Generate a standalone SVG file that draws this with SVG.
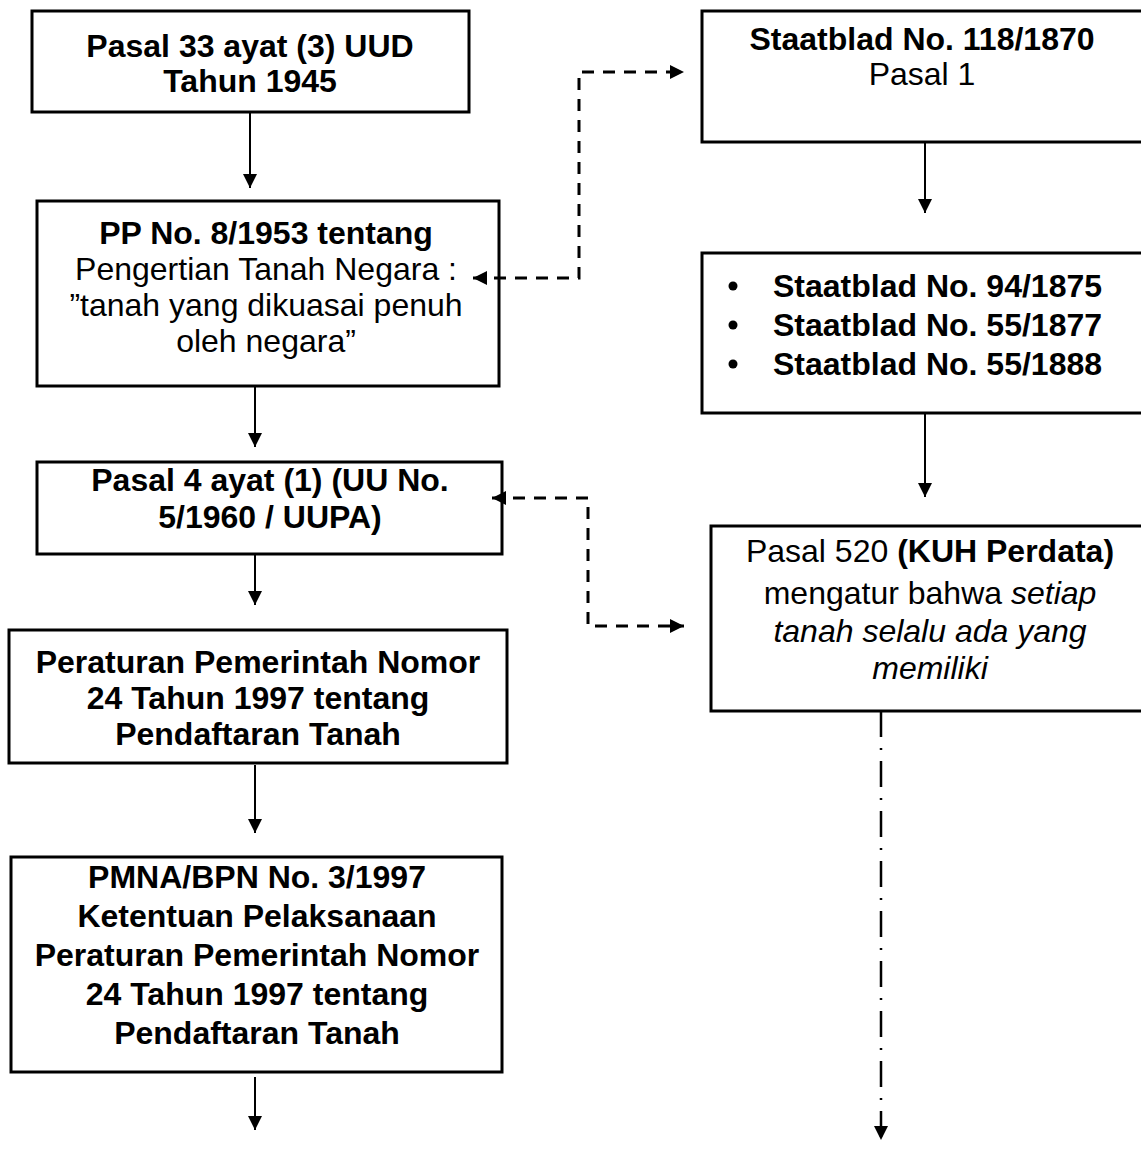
<svg xmlns="http://www.w3.org/2000/svg" width="1141" height="1151" viewBox="0 0 1141 1151">
<style>
.box{fill:#fff;stroke:#000;stroke-width:3}
.t{font-family:"Liberation Sans",Arial,sans-serif;font-size:32px;fill:#000;text-anchor:middle}
.b{font-weight:bold}
.i{font-style:italic}
.l{text-anchor:start}
.arr{fill:none;stroke:#000;stroke-width:2}
.dash{fill:none;stroke:#000;stroke-width:3;stroke-dasharray:12 9}
.dd{fill:none;stroke:#000;stroke-width:2.5;stroke-dasharray:26 11 2 11}
</style>
<defs>
<marker id="ah" markerUnits="userSpaceOnUse" markerWidth="16" markerHeight="14" refX="14" refY="7" orient="auto">
<path d="M0,0 L14,7 L0,14 Z" fill="#000"/>
</marker>
<marker id="ahs" markerUnits="userSpaceOnUse" markerWidth="16" markerHeight="14" refX="0" refY="7" orient="auto">
<path d="M14,0 L0,7 L14,14 Z" fill="#000"/>
</marker>
</defs>
<rect width="1141" height="1151" fill="#fff"/>
<g id="n1">
<rect class="box" x="32" y="11" width="437" height="101"/>
<text class="t b" x="250" y="57">Pasal 33 ayat (3) UUD</text>
<text class="t b" x="250" y="92">Tahun 1945</text>
</g>
<g id="n2">
<rect class="box" x="37" y="201" width="462" height="185"/>
<text class="t b" x="266" y="244">PP No. 8/1953 tentang</text>
<text class="t" x="266" y="280">Pengertian Tanah Negara :</text>
<text class="t" x="266" y="316">”tanah yang dikuasai penuh</text>
<text class="t" x="266" y="352">oleh negara”</text>
</g>
<g id="n3">
<rect class="box" x="37" y="462" width="465" height="92"/>
<text class="t b" x="270" y="491">Pasal 4 ayat (1) (UU No.</text>
<text class="t b" x="270" y="528">5/1960 / UUPA)</text>
</g>
<g id="n4">
<rect class="box" x="9" y="630" width="498" height="133"/>
<text class="t b" x="258" y="673">Peraturan Pemerintah Nomor</text>
<text class="t b" x="258" y="709">24 Tahun 1997 tentang</text>
<text class="t b" x="258" y="745">Pendaftaran Tanah</text>
</g>
<g id="n5">
<rect class="box" x="11" y="857" width="491" height="215"/>
<text class="t b" x="257" y="888">PMNA/BPN No. 3/1997</text>
<text class="t b" x="257" y="927">Ketentuan Pelaksanaan</text>
<text class="t b" x="257" y="966">Peraturan Pemerintah Nomor</text>
<text class="t b" x="257" y="1005">24 Tahun 1997 tentang</text>
<text class="t b" x="257" y="1044">Pendaftaran Tanah</text>
</g>
<g id="r1">
<rect class="box" x="702" y="11" width="443" height="131"/>
<text class="t b" x="922" y="50">Staatblad No. 118/1870</text>
<text class="t" x="922" y="85">Pasal 1</text>
</g>
<g id="r2">
<rect class="box" x="702" y="253" width="443" height="160"/>
<circle cx="733" cy="286" r="4.5"/>
<circle cx="733" cy="325" r="4.5"/>
<circle cx="733" cy="364" r="4.5"/>
<text class="t b l" x="773" y="297">Staatblad No. 94/1875</text>
<text class="t b l" x="773" y="336">Staatblad No. 55/1877</text>
<text class="t b l" x="773" y="375">Staatblad No. 55/1888</text>
</g>
<g id="r3">
<rect class="box" x="711" y="526" width="439" height="185"/>
<text class="t" x="930" y="562">Pasal 520 <tspan class="b">(KUH Perdata)</tspan></text>
<text class="t" x="930" y="604">mengatur bahwa <tspan class="i">setiap</tspan></text>
<text class="t i" x="930" y="642">tanah selalu ada yang</text>
<text class="t i" x="930" y="679">memiliki</text>
</g>
<g id="connectors">
<path class="arr" d="M250,112 V188" marker-end="url(#ah)"/>
<path class="arr" d="M255,386 V447" marker-end="url(#ah)"/>
<path class="arr" d="M255,554 V605" marker-end="url(#ah)"/>
<path class="arr" d="M255,765 V833" marker-end="url(#ah)"/>
<path class="arr" d="M255,1077 V1130" marker-end="url(#ah)"/>
<path class="arr" d="M925,142 V213" marker-end="url(#ah)"/>
<path class="arr" d="M925,414 V497" marker-end="url(#ah)"/>
<path class="dd" d="M881,711 V1140" marker-end="url(#ah)"/>
<path class="dash" d="M473,278 H579 V72 H684" marker-start="url(#ahs)" marker-end="url(#ah)"/>
<path class="dash" d="M492,498 H588 V626 H684" marker-start="url(#ahs)" marker-end="url(#ah)"/>
</g>
</svg>
